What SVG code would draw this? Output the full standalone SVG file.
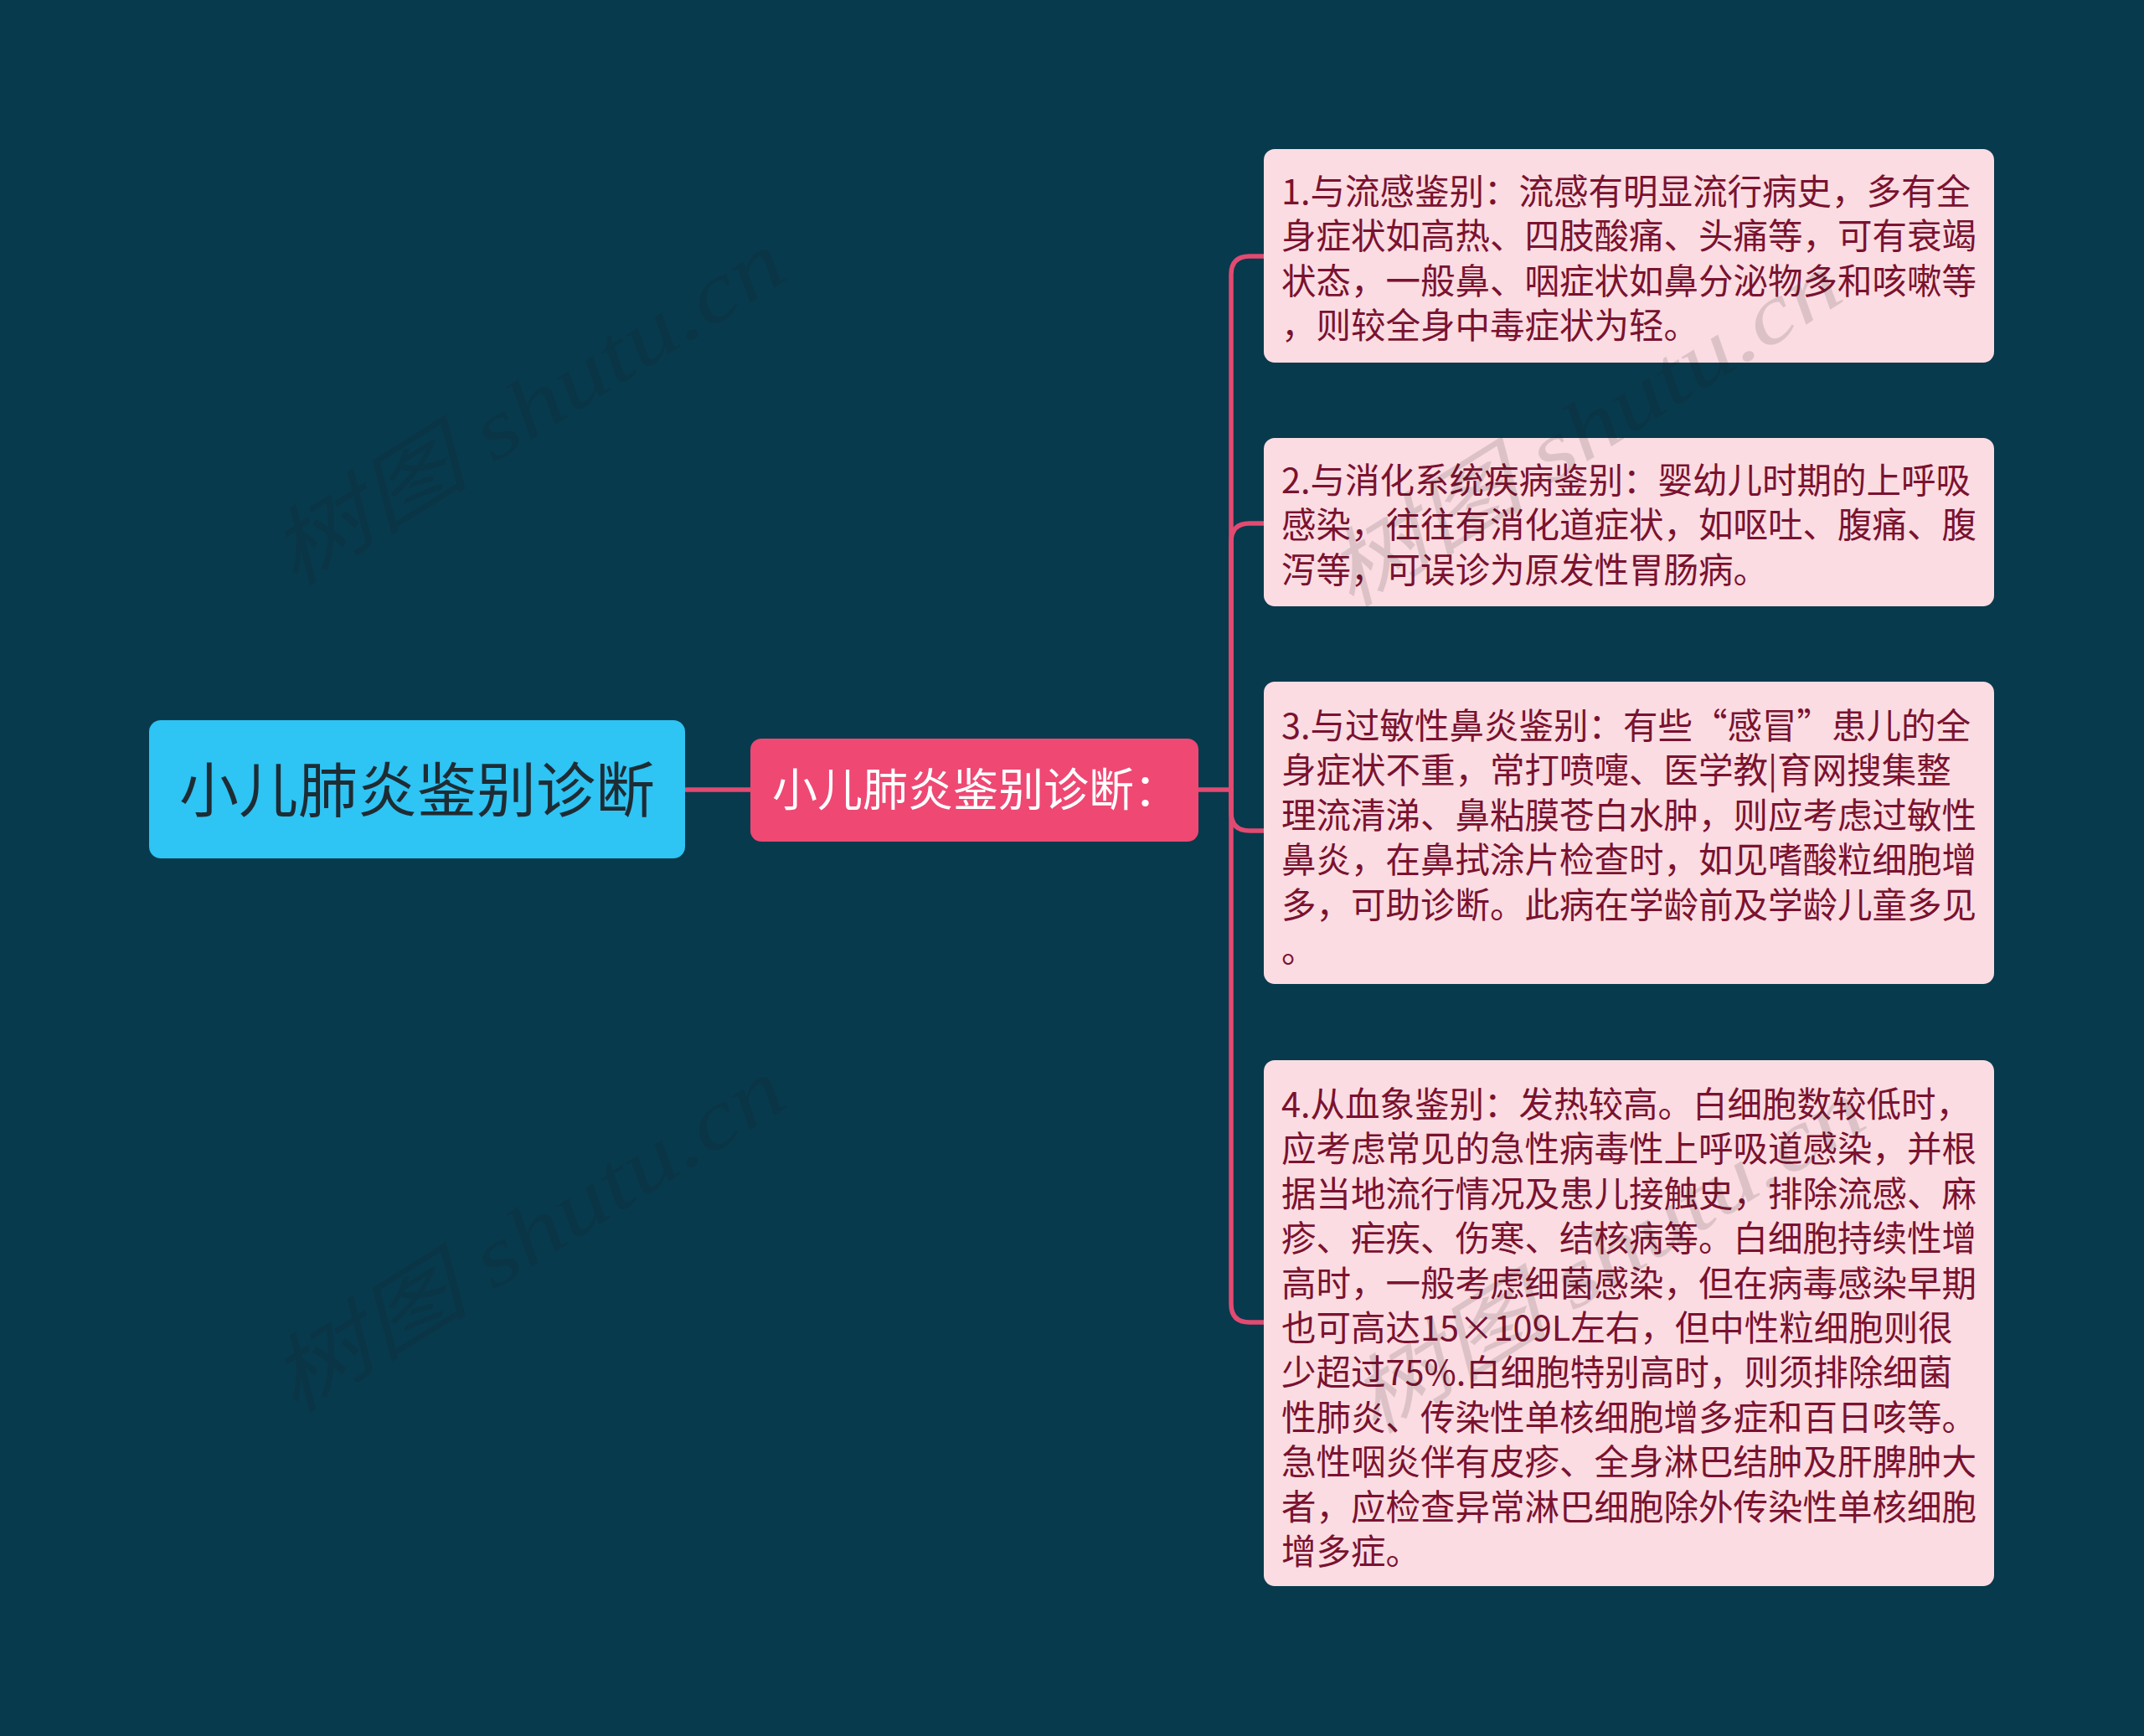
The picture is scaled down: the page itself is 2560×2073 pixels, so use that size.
<svg xmlns="http://www.w3.org/2000/svg" width="2560" height="2073" viewBox="0 0 2560 2073">
<style>
.bg{fill:#083A4D}
.conn{fill:none;stroke:#E24A72;stroke-width:5.5;stroke-linecap:round}
.root rect{fill:#2EC4F4}
.root text{fill:#1E2C34;font-family:"Noto Sans CJK SC","Noto Sans",sans-serif;font-size:71px}
.mid rect{fill:#EE4873}
.mid text{fill:#FFFFFF;font-family:"Noto Sans CJK SC","Noto Sans",sans-serif;font-size:54px}
.leaf rect{fill:#FADCE2}
.leaf text{fill:#7A1230;font-family:"Noto Sans CJK SC","Noto Sans",sans-serif;font-size:41.5px}
.wm{fill:#1A1A1A;opacity:0.13;font-family:"Liberation Serif","Noto Sans CJK SC",serif;font-size:100px;font-style:italic}
</style>
<rect class="bg" x="0" y="0" width="2560" height="2073"/>

<g id="connectors">
  <path class="conn" d="M818,943 H896"/>
  <path class="conn" d="M1431,943 H1470"/>
  <path class="conn" d="M1470,943 V328 Q1470,306 1492,306 H1509"/>
  <path class="conn" d="M1470,943 V647 Q1470,625 1492,625 H1509"/>
  <path class="conn" d="M1470,943 V970 Q1470,992 1492,992 H1509"/>
  <path class="conn" d="M1470,943 V1557 Q1470,1579 1492,1579 H1509"/>
</g>

<g id="root" class="root">
  <rect x="178" y="860" width="640" height="165" rx="14"/>
  <text x="498" y="969" text-anchor="middle">小儿肺炎鉴别诊断</text>
</g>

<g id="mid" class="mid">
  <rect x="896" y="882" width="535" height="123" rx="13"/>
  <text x="922" y="963">小儿肺炎鉴别诊断：</text>
</g>

<g id="n1" class="leaf">
  <rect x="1509" y="178" width="872" height="255" rx="13"/>
  <text x="1530" y="244">1.与流感鉴别：流感有明显流行病史，多有全</text>
  <text x="1530" y="297.4">身症状如高热、四肢酸痛、头痛等，可有衰竭</text>
  <text x="1530" y="350.8">状态，一般鼻、咽症状如鼻分泌物多和咳嗽等</text>
  <text x="1530" y="404.2">，则较全身中毒症状为轻。</text>
</g>

<g id="n2" class="leaf">
  <rect x="1509" y="523" width="872" height="201" rx="13"/>
  <text x="1530" y="589">2.与消化系统疾病鉴别：婴幼儿时期的上呼吸</text>
  <text x="1530" y="642.4">感染，往往有消化道症状，如呕吐、腹痛、腹</text>
  <text x="1530" y="695.8">泻等，可误诊为原发性胃肠病。</text>
</g>

<g id="n3" class="leaf">
  <rect x="1509" y="814" width="872" height="361" rx="13"/>
  <text x="1530" y="882">3.与过敏性鼻炎鉴别：有些“感冒”患儿的全</text>
  <text x="1530" y="935.4">身症状不重，常打喷嚏、医学教|育网搜集整</text>
  <text x="1530" y="988.8">理流清涕、鼻粘膜苍白水肿，则应考虑过敏性</text>
  <text x="1530" y="1042.2">鼻炎，在鼻拭涂片检查时，如见嗜酸粒细胞增</text>
  <text x="1530" y="1095.6">多，可助诊断。此病在学龄前及学龄儿童多见</text>
  <text x="1530" y="1149">。</text>
</g>

<g id="n4" class="leaf">
  <rect x="1509" y="1266" width="872" height="628" rx="13"/>
  <text x="1530" y="1334">4.从血象鉴别：发热较高。白细胞数较低时，</text>
  <text x="1530" y="1387.4">应考虑常见的急性病毒性上呼吸道感染，并根</text>
  <text x="1530" y="1440.8">据当地流行情况及患儿接触史，排除流感、麻</text>
  <text x="1530" y="1494.2">疹、疟疾、伤寒、结核病等。白细胞持续性增</text>
  <text x="1530" y="1547.6">高时，一般考虑细菌感染，但在病毒感染早期</text>
  <text x="1530" y="1601">也可高达15×109L左右，但中性粒细胞则很</text>
  <text x="1530" y="1654.4">少超过75%.白细胞特别高时，则须排除细菌</text>
  <text x="1530" y="1707.8">性肺炎、传染性单核细胞增多症和百日咳等。</text>
  <text x="1530" y="1761.2">急性咽炎伴有皮疹、全身淋巴结肿及肝脾肿大</text>
  <text x="1530" y="1814.6">者，应检查异常淋巴细胞除外传染性单核细胞</text>
  <text x="1530" y="1868">增多症。</text>
</g>

<g id="watermarks">
  <text class="wm" transform="translate(351,702) rotate(-32)" textLength="700" lengthAdjust="spacingAndGlyphs">树图 shutu.cn</text>
  <text class="wm" transform="translate(1612,728) rotate(-32)" textLength="700" lengthAdjust="spacingAndGlyphs">树图 shutu.cn</text>
  <text class="wm" transform="translate(351,1690) rotate(-32)" textLength="700" lengthAdjust="spacingAndGlyphs">树图 shutu.cn</text>
  <text class="wm" transform="translate(1640,1715) rotate(-32)" textLength="700" lengthAdjust="spacingAndGlyphs">树图 shutu.cn</text>
</g>
</svg>
